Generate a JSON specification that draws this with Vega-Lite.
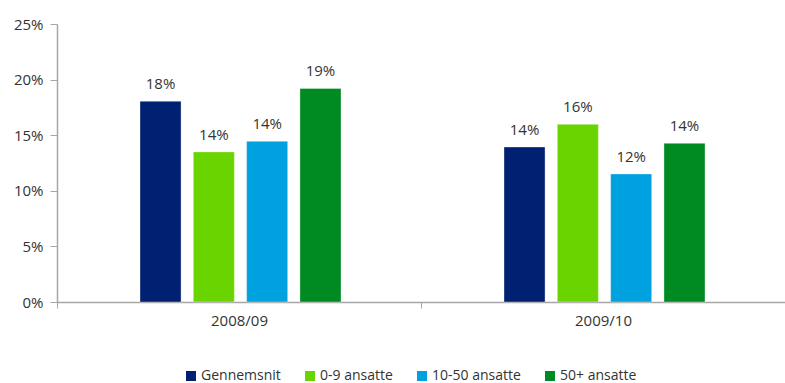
{
  "$schema": "https://vega.github.io/schema/vega-lite/v6.json",
  "width": 728,
  "height": 278,
  "autosize": {"type": "none"},
  "padding": {"left": 57, "top": 24, "right": 0, "bottom": 81},
  "background": "white",
  "config": {
    "view": {"stroke": null},
    "font": "Open Sans",
    "axis": {"labelFont": "Open Sans", "labelColor": "#333333", "labelFontSize": 15, "domainColor": "#A6A6A6", "tickColor": "#A6A6A6", "grid": false, "title": null}
  },
  "data": {
    "values": [
      {"period": "2008/09", "group": "Gennemsnit", "value": 0.1805},
      {"period": "2008/09", "group": "0-9 ansatte", "value": 0.135},
      {"period": "2008/09", "group": "10-50 ansatte", "value": 0.1445},
      {"period": "2008/09", "group": "50+ ansatte", "value": 0.192},
      {"period": "2009/10", "group": "Gennemsnit", "value": 0.1394},
      {"period": "2009/10", "group": "0-9 ansatte", "value": 0.1598},
      {"period": "2009/10", "group": "10-50 ansatte", "value": 0.1152},
      {"period": "2009/10", "group": "50+ ansatte", "value": 0.1427}
    ]
  },
  "encoding": {
    "x": {
      "field": "period", "type": "nominal",
      "scale": {"paddingInner": 0, "paddingOuter": 0},
      "axis": {"labelAngle": 0, "tickBand": "extent", "tickSize": 6, "labelPadding": 5, "domainWidth": 1.5}
    },
    "xOffset": {
      "field": "group", "type": "nominal",
      "sort": ["Gennemsnit", "0-9 ansatte", "10-50 ansatte", "50+ ansatte"],
      "scale": {"range": [83, 284], "paddingInner": 0.23, "paddingOuter": 0}
    },
    "y": {
      "field": "value", "type": "quantitative",
      "scale": {"domain": [0, 0.25], "nice": false},
      "axis": {"format": ".0%", "values": [0, 0.05, 0.1, 0.15, 0.2, 0.25], "tickSize": 7, "labelPadding": 7, "domainWidth": 1.5}
    }
  },
  "layer": [
    {
      "mark": {"type": "bar", "strokeWidth": 1, "strokeOpacity": 0.35, "stroke": "white"},
      "encoding": {
        "color": {
          "field": "group", "type": "nominal",
          "sort": ["Gennemsnit", "0-9 ansatte", "10-50 ansatte", "50+ ansatte"],
          "scale": {"domain": ["Gennemsnit", "0-9 ansatte", "10-50 ansatte", "50+ ansatte"], "range": ["#002171", "#6AD400", "#00A1DF", "#008A22"]},
          "legend": {
            "title": null, "orient": "none", "direction": "horizontal",
            "legendX": 127, "legendY": 345,
            "symbolType": "square", "symbolSize": 100, "symbolStrokeWidth": 0,
            "labelFont": "Open Sans", "labelFontSize": 14, "labelColor": "#333333",
            "columnPadding": 22, "labelOffset": 3
          }
        }
      }
    },
    {
      "mark": {"type": "text", "baseline": "bottom", "dy": -9, "fontSize": 15, "color": "#333333", "font": "Open Sans"},
      "encoding": {
        "text": {"field": "value", "type": "quantitative", "format": ".0%"}
      }
    }
  ]
}
